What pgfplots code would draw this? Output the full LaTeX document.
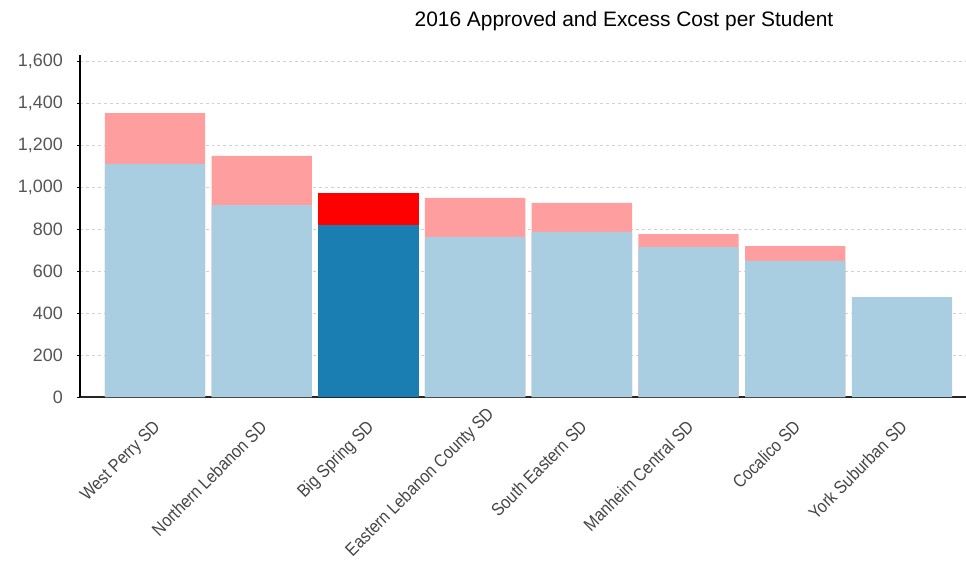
\documentclass[border=0pt]{standalone}
\usepackage{fontspec}
\setmainfont{Liberation Sans}
\newfontfamily\narrowfont{Liberation Sans}[FakeStretch=0.88]
\usepackage{pgfplots}
\pgfplotsset{compat=1.18}
\definecolor{apprlight}{HTML}{A9CEE1}
\definecolor{apprdark}{HTML}{1B7EB2}
\definecolor{excpink}{HTML}{FF9E9E}
\definecolor{excred}{HTML}{FF0000}
\definecolor{ticktext}{HTML}{555555}
\definecolor{labtext}{HTML}{444444}
\definecolor{gridc}{HTML}{D0D0D0}
\begin{document}
\begin{tikzpicture}
\useasboundingbox (0,0) rectangle (966bp,568bp);
\begin{axis}[
  at={(80bp,171bp)}, anchor=south west,
  scale only axis,
  width=886bp, height=342.3bp,
  xmin=-0.703, xmax=7.6,
  ymin=0, ymax=1630,
  axis x line*=bottom, axis y line*=left,
  x axis line style={black!85, line width=2bp, -},
  y axis line style={black, line width=1.4bp, -},
  xtick={0,...,7},
  xticklabels={West Perry SD, Northern Lebanon SD, Big Spring SD, {Eastern Lebanon County SD\hspace*{-19bp}}, South Eastern SD, Manheim Central SD, Cocalico SD, York Suburban SD},
  x tick style={draw=none},
  x tick label style={xshift=-3bp, rotate=45, anchor=north east, inner sep=0pt, font=\narrowfont\fontsize{18}{20}\selectfont, text=labtext},
  xticklabel shift=19bp,
  ytick={0,200,...,1600},
  y tick style={black, line width=0.8bp},
  tick align=outside, major tick length=3bp,
  y tick label style={font=\fontsize{18}{20}\selectfont, text=ticktext, inner sep=0pt, anchor=east},
  yticklabel shift=14bp,
  /pgf/number format/.cd, 1000 sep={,}, assume math mode=true,
  /pgfplots/.cd,
  ymajorgrids,
  grid style={gridc, dashed, line width=0.8bp},
  clip=false,
  ybar, bar width=0.94, bar shift=0pt,
]
% totals (approved + excess)
\addplot[fill=excpink, draw=none] coordinates {(0,1352) (1,1148) (3,948) (4,924) (5,776) (6,719)};
\addplot[fill=excred, draw=none] coordinates {(2,971)};
% approved
\addplot[fill=apprlight, draw=none] coordinates {(0,1110) (1,914) (3,762) (4,786) (5,714) (6,648) (7,476)};
\addplot[fill=apprdark, draw=none] coordinates {(2,819)};
\end{axis}
\node[anchor=base, inner sep=0pt, font=\fontsize{21}{23}\selectfont] at (624bp,541bp) {2016 Approved and Excess Cost per Student};
\end{tikzpicture}
\end{document}
